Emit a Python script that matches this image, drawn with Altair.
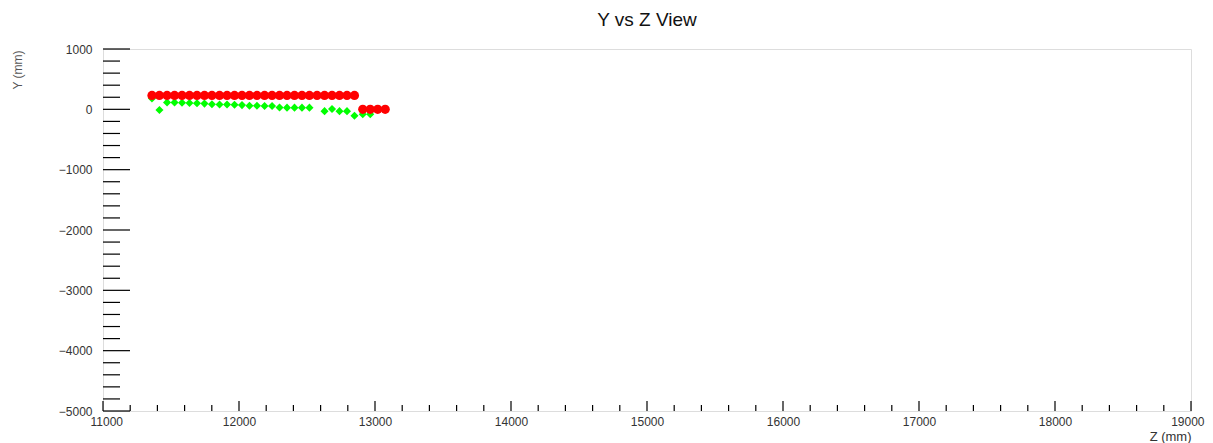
import altair as alt
import pandas as pd

# Red hits (circles)
red_z = [11360, 11415, 11471, 11526, 11581, 11636, 11691, 11746, 11801, 11857,
         11912, 11967, 12022, 12077, 12132, 12188, 12243, 12298, 12353, 12408,
         12463, 12518, 12574, 12629, 12684, 12739, 12794, 12849,
         12910, 12965, 13020, 13075]
red_y = [230] * 28 + [0, 0, 0, 0]

# Green hits (diamonds)
green_z = [11360, 11415, 11471, 11526, 11581, 11636, 11691, 11746, 11801, 11857,
           11912, 11967, 12022, 12077, 12132, 12188, 12243, 12298, 12353, 12408,
           12463, 12518, 12629, 12684, 12739, 12794, 12849, 12910, 12965]
green_y = [180, -10, 115, 115, 110, 105, 100, 95, 85, 80,
           80, 75, 70, 60, 60, 55, 55, 30, 28, 28,
           28, 28, -30, 5, -30, -30, -105, -80, -80]

x_major = [11000, 12000, 13000, 14000, 15000, 16000, 17000, 18000, 19000]
y_major = [-5000, -4000, -3000, -2000, -1000, 0, 1000]
x_minor = [v for v in range(11000, 19001, 200) if v not in x_major]
y_minor = [v for v in range(-5000, 1001, 200) if v not in y_major]

W, H = 1088, 362
FONT = "Liberation Sans"

xscale = alt.Scale(domain=[11000, 19000], nice=False, zero=False)
yscale = alt.Scale(domain=[-5000, 1000], nice=False, zero=False)

xaxis = alt.Axis(values=x_major, format="d", grid=False, ticks=False, domain=False,
                 labelFont=FONT, labelFontSize=12, labelColor="#333", labelPadding=5,
                 labelFlush=True, labelFlushOffset=13, labelOverlap=False,
                 title="Z (mm)", titleFont=FONT, titleFontSize=13, titleFontWeight="normal",
                 titleColor="#333", titleX=W, titleY=25, titleAlign="right",
                 titleBaseline="middle", titleAnchor="end")
yaxis = alt.Axis(values=y_major, format="d", grid=False, ticks=False, domain=False,
                 labelFont=FONT, labelFontSize=12, labelColor="#333", labelPadding=11,
                 labelFlush=False, labelOverlap=False,
                 title="Y (mm)", titleFont=FONT, titleFontSize=12, titleFontWeight="normal",
                 titleColor="#555", titleX=-86, titleY=1, titleAngle=270, titleAlign="right",
                 titleBaseline="middle", titleAnchor="end")

df_red = pd.DataFrame({"z": red_z, "y": red_y})
df_green = pd.DataFrame({"z": green_z, "y": green_y})

green = alt.Chart(df_green).mark_point(shape="diamond", filled=True, color="#00ff00",
                                       size=65, opacity=1).encode(
    x=alt.X("z:Q", scale=xscale, axis=xaxis),
    y=alt.Y("y:Q", scale=yscale, axis=yaxis),
)
red = alt.Chart(df_red).mark_point(shape="circle", filled=True, color="#ff0000",
                                   size=85, opacity=1).encode(
    x=alt.X("z:Q", scale=xscale, axis=xaxis),
    y=alt.Y("y:Q", scale=yscale, axis=yaxis),
)

ymaj = alt.Chart(pd.DataFrame({"y": y_major})).mark_rule(color="black", strokeWidth=1.2).encode(
    y=alt.Y("y:Q", scale=yscale, axis=yaxis), x=alt.value(0), x2=alt.value(27))
ymin = alt.Chart(pd.DataFrame({"y": y_minor})).mark_rule(color="black", strokeWidth=1.2).encode(
    y=alt.Y("y:Q", scale=yscale, axis=yaxis), x=alt.value(0), x2=alt.value(17))
xmaj = alt.Chart(pd.DataFrame({"z": x_major})).mark_rule(color="black", strokeWidth=1.2).encode(
    x=alt.X("z:Q", scale=xscale, axis=xaxis), y=alt.value(H), y2=alt.value(H - 10))
xmin = alt.Chart(pd.DataFrame({"z": x_minor})).mark_rule(color="black", strokeWidth=1.2).encode(
    x=alt.X("z:Q", scale=xscale, axis=xaxis), y=alt.value(H), y2=alt.value(H - 6))

chart = alt.layer(ymaj, ymin, xmaj, xmin, green, red).properties(
    width=W, height=H,
    title=alt.TitleParams("Y vs Z View", font=FONT, fontSize=19, fontWeight="normal",
                          color="#111", anchor="middle", offset=13),
    autosize=alt.AutoSizeParams(type="none"),
    padding={"left": 95, "top": 41, "right": 14, "bottom": 33},
).configure_view(stroke="black", strokeWidth=1.2).configure(background="white")

chart.save("out.html", embed_options={"renderer": "svg", "actions": False})
